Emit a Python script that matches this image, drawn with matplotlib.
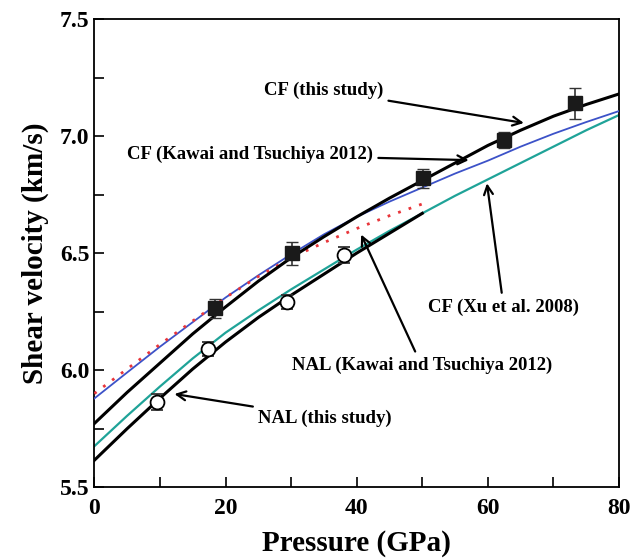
"""
Shear velocity vs pressure: CF and NAL phases, this study vs literature.
"""

import matplotlib.pyplot as plt
from matplotlib.ticker import MultipleLocator

plt.rcParams["font.family"] = ["Liberation Serif", "DejaVu Serif"]
plt.rcParams["font.weight"] = "bold"

# measured points (this study)
cf_p = [18.4, 30.1, 50.1, 62.4, 73.3]
cf_vs = [6.264, 6.499, 6.819, 6.983, 7.140]
cf_err = [0.04, 0.05, 0.04, 0.035, 0.065]

nal_p = [9.5, 17.4, 29.4, 38.0]
nal_vs = [5.865, 6.09, 6.29, 6.491]
nal_err = [0.035, 0.03, 0.03, 0.035]

# fitted / literature curves, read every 5 GPa
p_full = [0, 5, 10, 15, 20, 25, 30, 35, 40, 45, 50, 55, 60, 65, 70, 75, 80]
p_half = [0, 5, 10, 15, 20, 25, 30, 35, 40, 45, 50]
cf_fit = [5.772, 5.905, 6.03, 6.155, 6.27, 6.38, 6.48, 6.57, 6.655, 6.735,
          6.81, 6.885, 6.96, 7.025, 7.085, 7.135, 7.18]
cf_kawai = [5.879, 5.99, 6.10, 6.205, 6.31, 6.405, 6.495, 6.58, 6.655, 6.72,
            6.78, 6.84, 6.895, 6.955, 7.01, 7.06, 7.107]
cf_xu = [5.675, 5.805, 5.93, 6.05, 6.16, 6.255, 6.345, 6.43, 6.515, 6.595,
         6.67, 6.745, 6.815, 6.885, 6.955, 7.025, 7.09]
nal_fit = [5.615, 5.75, 5.88, 6.005, 6.12, 6.225, 6.32, 6.41, 6.50, 6.585, 6.67]
nal_kawai = [5.90, 6.005, 6.11, 6.21, 6.31, 6.40, 6.48, 6.545, 6.605, 6.66, 6.71]

fig = plt.figure(figsize=(6.33, 5.6), dpi=100)
ax = fig.add_axes([0.149, 0.130, 0.829, 0.836])

ax.plot(p_full, cf_xu, color="#1fa398", lw=1.6, zorder=2)
ax.plot(p_full, cf_kawai, color="#3c52c8", lw=1.3, zorder=3)
ax.plot(p_half, nal_kawai, color="#e8353a", lw=2.0, ls=(0, (1, 3)), zorder=3)
ax.plot(p_full, cf_fit, color="black", lw=2.2, zorder=4)
ax.plot(p_half, nal_fit, color="black", lw=2.2, zorder=4)

ax.errorbar(cf_p, cf_vs, yerr=cf_err, fmt="s", ms=10, mfc="#1a1a1a", mec="#1a1a1a",
            ecolor="#333333", elinewidth=1.2, capsize=4, zorder=5)
ax.errorbar(nal_p, nal_vs, yerr=nal_err, fmt="o", ms=10, mfc="white", mec="black",
            mew=1.3, ecolor="#333333", elinewidth=1.2, capsize=4, zorder=5)

arrow = dict(arrowstyle="->", color="black", lw=1.6, mutation_scale=16)
fs = 13.5
ax.annotate("CF (this study)", xy=(65.9, 7.054), xytext=(34.9, 7.197),
            ha="center", va="center", fontsize=fs, arrowprops=arrow)
ax.annotate("CF (Kawai and Tsuchiya 2012)", xy=(57.5, 6.897), xytext=(23.7, 6.92),
            ha="center", va="center", fontsize=fs, arrowprops=arrow)
ax.annotate("CF (Xu et al. 2008)", xy=(59.8, 6.81), xytext=(62.4, 6.27),
            ha="center", va="center", fontsize=fs, arrowprops=arrow)
ax.annotate("NAL (Kawai and Tsuchiya 2012)", xy=(40.5, 6.59), xytext=(49.9, 6.02),
            ha="center", va="center", fontsize=fs, arrowprops=arrow)
ax.annotate("NAL (this study)", xy=(11.8, 5.90), xytext=(35.2, 5.795),
            ha="center", va="center", fontsize=fs, arrowprops=arrow)

ax.set_xlim(0, 80)
ax.set_ylim(5.5, 7.5)
ax.xaxis.set_major_locator(MultipleLocator(20))
ax.xaxis.set_minor_locator(MultipleLocator(10))
ax.yaxis.set_major_locator(MultipleLocator(0.5))
ax.yaxis.set_minor_locator(MultipleLocator(0.25))
ax.yaxis.set_major_formatter(plt.FormatStrFormatter("%.1f"))
ax.tick_params(which="both", direction="in", length=7, width=1.2, labelsize=17)
ax.tick_params(axis="x", pad=8)
for s in ax.spines.values():
    s.set_linewidth(1.3)

ax.set_xlabel("Pressure (GPa)", fontsize=21, fontweight="bold", labelpad=8)
ax.set_ylabel("Shear velocity (km/s)", fontsize=21, fontweight="bold", labelpad=8)

fig.savefig("out.png", dpi=100)
